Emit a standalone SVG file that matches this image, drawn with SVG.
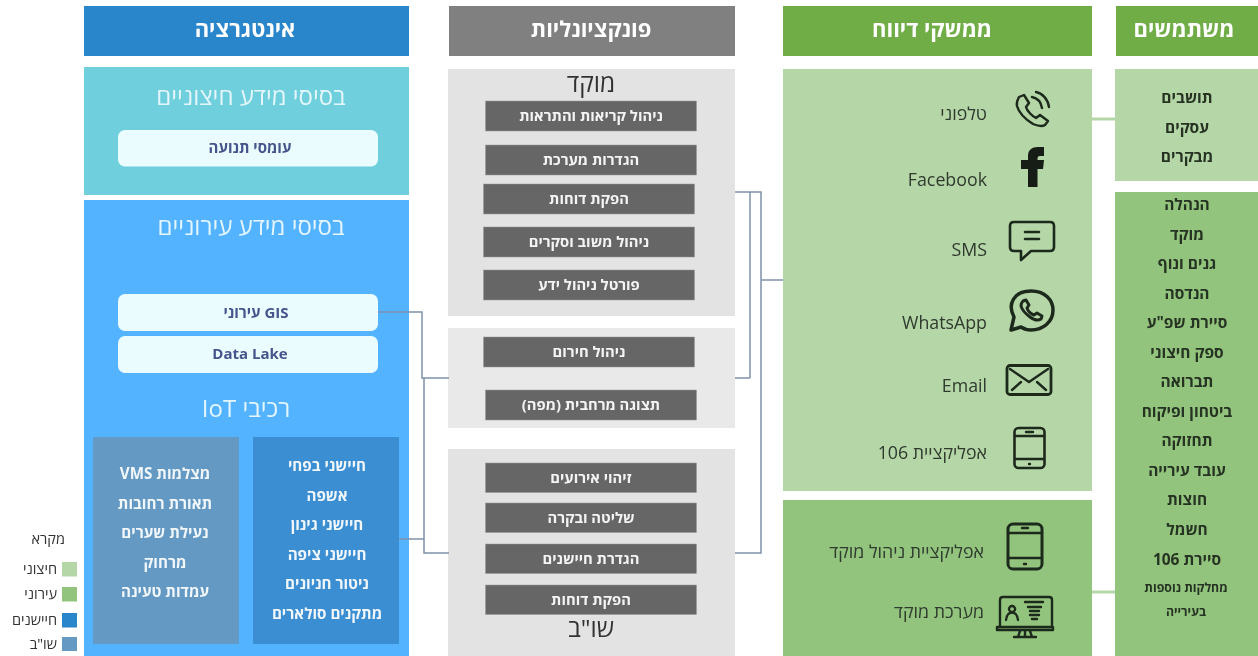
<svg xmlns="http://www.w3.org/2000/svg" width="1258" height="656" viewBox="0 0 1258 656">
<defs>
<filter id="soft" x="-2%" y="-2%" width="104%" height="104%"><feGaussianBlur stdDeviation="0.45"/></filter>
<style>
svg>g{filter:url(#soft)}
text{font-family:"Open Sans","Liberation Sans","DejaVu Sans",sans-serif;direction:rtl;text-anchor:middle}
.hd{font-size:22px;font-weight:700;fill:#fff}
.ttl{font-size:24px;fill:#e4f6fb}
.chip{font-size:15px;font-weight:700;fill:#44558c}
.iot{font-size:15.200px;font-weight:700;fill:#f2f7fb}
.bar{font-size:14.800px;font-weight:700;fill:#f4f4f4}
.grp{font-size:24.500px;fill:#333}
.lab{font-size:17.800px;fill:#2f3a2e;text-anchor:start}
.usr{font-size:15.500px;font-weight:700;fill:#263322}
.sm{font-size:12.300px;font-weight:700;fill:#263322}
.leg{font-size:14.500px;fill:#333;text-anchor:start}
.b{fill:#666;stroke:#999;stroke-width:.5}
.c{fill:#ebfcff}
.conn{fill:none;stroke:#7f91aa;stroke-width:1.500}
.g{fill:none;stroke:#b5d6a7;stroke-width:3}
.ic{fill:none;stroke:#1f291e;stroke-width:2.400;stroke-linejoin:round;stroke-linecap:round}
</style>
</defs>
<g id="integration">
<rect x="84" y="6" width="325" height="50" fill="#2a86cb"/>
<text class="hd" x="245" y="37">אינטגרציה</text>
</g>
<g id="external-sources">
<rect x="84" y="67" width="325" height="128" fill="#6fcfdd"/>
<text class="ttl" x="251" y="105">בסיסי מידע חיצוניים</text>
<rect class="c" x="118" y="130" width="260" height="36.500" rx="7"/>
<text class="chip" x="250" y="153">עומסי תנועה</text>
</g>
<g id="municipal-sources">
<rect x="84" y="200" width="325" height="456" fill="#53b3ff"/>
<text class="ttl" x="251" y="235">בסיסי מידע עירוניים</text>
<rect class="c" x="118" y="294" width="260" height="37" rx="7"/>
<text class="chip" x="256" y="318">GIS עירוני</text>
<rect class="c" x="118" y="336" width="260" height="37" rx="7"/>
<text class="chip" x="250" y="359">Data Lake</text>
<text class="ttl" x="246" y="417">רכיבי IoT</text>
</g>
<g id="iot-left">
<rect x="93" y="437" width="146" height="207" fill="#6399c2"/>
<text class="iot" x="165" y="479">מצלמות VMS</text>
<text class="iot" x="165" y="509">תאורת רחובות</text>
<text class="iot" x="165" y="538">נעילת שערים</text>
<text class="iot" x="165" y="568">מרחוק</text>
<text class="iot" x="165" y="597">עמדות טעינה</text>
</g>
<g id="iot-right">
<rect x="253" y="437" width="146" height="207" fill="#3a8ed2"/>
<text class="iot" x="327" y="471">חיישני בפחי</text>
<text class="iot" x="327" y="501">אשפה</text>
<text class="iot" x="327" y="530">חיישני גינון</text>
<text class="iot" x="327" y="560">חיישני ציפה</text>
<text class="iot" x="327" y="589">ניטור חניונים</text>
<text class="iot" x="327" y="619">מתקנים סולארים</text>
</g>
<g id="functionality">
<rect x="449" y="6" width="286" height="50" fill="#808080"/>
<text class="hd" x="591" y="37">פונקציונליות</text>
</g>
<g id="moked">
<rect x="448" y="69" width="287" height="247" fill="#e3e3e3"/>
<text class="grp" x="591" y="92">מוקד</text>
<rect class="b" x="485.500" y="101" width="211" height="30"/><text class="bar" x="591" y="121">ניהול קריאות והתראות</text>
<rect class="b" x="485.500" y="145" width="211" height="30"/><text class="bar" x="591" y="165">הגדרות מערכת</text>
<rect class="b" x="483.500" y="184" width="211" height="30"/><text class="bar" x="589" y="204">הפקת דוחות</text>
<rect class="b" x="483.500" y="227" width="211" height="30"/><text class="bar" x="589" y="247">ניהול משוב וסקרים</text>
<rect class="b" x="483.500" y="270" width="211" height="30"/><text class="bar" x="589" y="290">פורטל ניהול ידע</text>
</g>
<g id="shared">
<rect x="448" y="328" width="287" height="100" fill="#e9e9e9"/>
<rect class="b" x="483.500" y="337" width="211" height="30"/><text class="bar" x="589" y="357">ניהול חירום</text>
<rect class="b" x="485.500" y="390" width="211" height="30"/><text class="bar" x="591" y="410">תצוגה מרחבית (מפה)</text>
</g>
<g id="shob">
<rect x="448" y="449" width="287" height="207" fill="#e3e3e3"/>
<rect class="b" x="485.500" y="463" width="211" height="29.500"/><text class="bar" x="591" y="483">זיהוי אירועים</text>
<rect class="b" x="485.500" y="503" width="211" height="29.500"/><text class="bar" x="591" y="523">שליטה ובקרה</text>
<rect class="b" x="485.500" y="544" width="211" height="29.500"/><text class="bar" x="591" y="564">הגדרת חיישנים</text>
<rect class="b" x="485.500" y="585" width="211" height="29.500"/><text class="bar" x="591" y="605">הפקת דוחות</text>
<text class="grp" x="591" y="637">שו"ב</text>
</g>
<g id="reporting">
<rect x="783" y="6" width="309" height="50" fill="#70ad47"/>
<text class="hd" x="932" y="37">ממשקי דיווח</text>
</g>
<g id="channels">
<rect x="783" y="69" width="309" height="422" fill="#b5d6a7"/>
<text class="lab" x="987" y="120">טלפוני</text>
<text class="lab" x="987" y="186">Facebook</text>
<text class="lab" x="987" y="256">SMS</text>
<text class="lab" x="987" y="329">WhatsApp</text>
<text class="lab" x="987" y="392">Email</text>
<text class="lab" x="987" y="459">אפליקציית 106</text>
<path class="ic" d="M1019 97l5-2 5 8-3 4c1 4 6 9 10 11l4-3 8 6-3 4c-3 2-7 1-12-1-8-5-14-11-16-18-1-4 1-7 2-9zM1032 97c5 1 9 5 10 11M1036 92c6 1 12 7 13 15"/>
<path d="M1028 187V169H1021V160H1028V156C1028 150 1032 147 1038 147H1044V156H1040C1038 156 1037.500 157 1037.500 159V160H1044L1043 169H1037.500V187Z" fill="#141a13"/>
<path class="ic" d="M1014 222H1050Q1054 222 1054 226V247Q1054 251 1050 251H1031L1021 260V251H1014Q1010 251 1010 247V226Q1010 222 1014 222ZM1025 232H1039M1025 239H1039" style="stroke-width:2.600"/>
<path class="ic" style="stroke-width:3.500" d="M1011 330L1014 317C1007 304 1014 291 1031 291 1045 291 1053 300 1053 310 1053 322 1043 330 1031 330 1027 330 1024 329 1021 327Z"/>
<path class="ic" style="stroke-width:3" d="M1023 301l3-1 3 5-2 3c1 3 4 6 7 7l3-2 5 3-1 3c-3 2-7 1-11-2-4-3-8-7-9-11 0-2 1-4 2-5z"/>
<rect class="ic" x="1007" y="365.500" width="44" height="29" rx="3" style="stroke-width:2.800"/>
<path class="ic" d="M1010 369L1029 382 1048 369M1012 390L1021 382M1046 390L1037 382"/>
<rect class="ic" x="1014.500" y="428" width="30" height="40" rx="4" style="stroke-width:2.600"/>
<path class="ic" d="M1015 436H1044M1015 459H1044M1026 432H1033M1029 464H1030"/>
</g>
<g id="municipal-channels">
<rect x="783" y="500" width="309" height="156" fill="#92c47d"/>
<text class="lab" x="984" y="558">אפליקציית ניהול מוקד</text>
<text class="lab" x="984" y="618">מערכת מוקד</text>
<rect class="ic" x="1008" y="524" width="34" height="45" rx="5" style="stroke-width:3"/>
<path class="ic" d="M1008 533H1042M1008 558H1042M1022 528H1028M1024 564H1026"/>
<path class="ic" d="M1000 627V600Q1000 597 1003 597H1049Q1052 597 1052 600V627M997 627H1053V630H997ZM1025 630V636M1020 631L1018 637M1030 631L1032 637M1014 637H1036M1006 620C1007 610 1017 610 1018 620M1012 606a3 3 0 1 0 .1 0M1025 602H1043M1028 607H1041M1030 611H1039M1030 615H1039M1032 619H1037"/>
</g>
<g id="users">
<rect x="1116" y="6" width="142" height="50" fill="#70ad47"/>
<text class="hd" x="1184" y="37">משתמשים</text>
</g>
<g id="public-users">
<rect x="1115" y="69" width="143" height="112" fill="#b5d6a7"/>
<text class="usr" x="1187" y="103">תושבים</text>
<text class="usr" x="1187" y="133">עסקים</text>
<text class="usr" x="1187" y="162">מבקרים</text>
</g>
<g id="municipal-users">
<rect x="1115" y="192" width="143" height="464" fill="#92c47d"/>
<text class="usr" x="1187" y="210">הנהלה</text>
<text class="usr" x="1187" y="240">מוקד</text>
<text class="usr" x="1187" y="269">גנים ונוף</text>
<text class="usr" x="1187" y="299">הנדסה</text>
<text class="usr" x="1187" y="328">סיירת שפ"ע</text>
<text class="usr" x="1187" y="358">ספק חיצוני</text>
<text class="usr" x="1187" y="387">תברואה</text>
<text class="usr" x="1187" y="417">ביטחון ופיקוח</text>
<text class="usr" x="1187" y="446">תחזוקה</text>
<text class="usr" x="1187" y="476">עובד עירייה</text>
<text class="usr" x="1187" y="505">חוצות</text>
<text class="usr" x="1187" y="535">חשמל</text>
<text class="usr" x="1187" y="565">סיירת 106</text>
<text class="sm" x="1186" y="592">מחלקות נוספות</text>
<text class="sm" x="1186" y="616">בעירייה</text>
</g>
<g id="legend">
<text class="leg" x="65" y="544">מקרא</text>
<rect x="62" y="562" width="15" height="14.500" fill="#b5d6a7"/><text class="leg" x="57" y="574">חיצוני</text>
<rect x="62" y="587" width="15" height="14.500" fill="#92c47d"/><text class="leg" x="57" y="599">עירוני</text>
<rect x="62" y="613" width="15" height="14.500" fill="#2a86cb"/><text class="leg" x="57" y="625">חיישנים</text>
<rect x="62" y="637" width="15" height="14" fill="#6399c2"/><text class="leg" x="57" y="649">שו"ב</text>
</g>
<g id="connectors">
<path class="conn" d="M378 312H422V378H449M399 539H424M424 378V553H449M735 192H761V553H735M750 192V378M735 378H750M761 280H783"/>
<path class="g" d="M1080 119H1132M1092 592H1115"/>
</g>
</svg>
